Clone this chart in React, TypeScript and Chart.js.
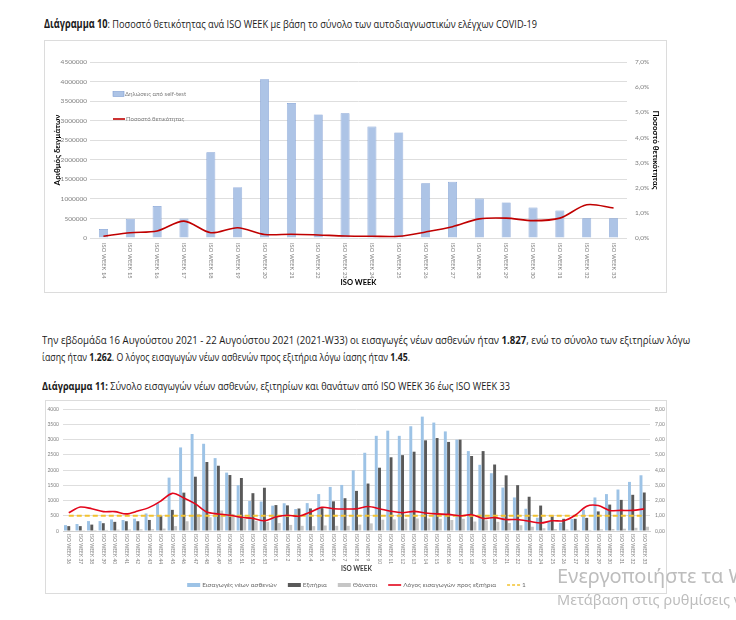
import React, { useEffect, useLayoutEffect, useRef } from "react";
import { Chart, registerables } from "chart.js";

Chart.register(...registerables);

const FONT = 'Lato, "Open Sans", sans-serif';
const PAGE_FONT = '"Open Sans", Lato, sans-serif';

// ---------- Διάγραμμα 10 ----------
const weeks10 = [
  "ISO WEEK 14", "ISO WEEK 15", "ISO WEEK 16", "ISO WEEK 17", "ISO WEEK 18",
  "ISO WEEK 19", "ISO WEEK 20", "ISO WEEK 21", "ISO WEEK 22", "ISO WEEK 23",
  "ISO WEEK 24", "ISO WEEK 25", "ISO WEEK 26", "ISO WEEK 27", "ISO WEEK 28",
  "ISO WEEK 29", "ISO WEEK 30", "ISO WEEK 31", "ISO WEEK 32", "ISO WEEK 33",
];
const selfTestCounts = [
  230000, 490000, 820000, 500000, 2190000, 1300000, 4060000, 3450000, 3160000, 3190000,
  2850000, 2700000, 1400000, 1440000, 1010000, 910000, 780000, 700000, 505000, 505000,
];
const positivityPct = [
  0.07, 0.21, 0.28, 0.67, 0.21, 0.41, 0.14, 0.15, 0.12, 0.08,
  0.07, 0.07, 0.24, 0.45, 0.76, 0.79, 0.69, 0.79, 1.32, 1.19,
];
const legend10 = ["Δηλώσεις από self-test", "Ποσοστό θετικότητας"];

// ---------- Διάγραμμα 11 ----------
const weeks11 = [
  "ISO WEEK 36", "ISO WEEK 37", "ISO WEEK 38", "ISO WEEK 39", "ISO WEEK 40", "ISO WEEK 41",
  "ISO WEEK 42", "ISO WEEK 43", "ISO WEEK 44", "ISO WEEK 45", "ISO WEEK 46", "ISO WEEK 47",
  "ISO WEEK 48", "ISO WEEK 49", "ISO WEEK 50", "ISO WEEK 51", "ISO WEEK 52", "ISO WEEK 53",
  "ISO WEEK 1", "ISO WEEK 2", "ISO WEEK 3", "ISO WEEK 4", "ISO WEEK 5", "ISO WEEK 6",
  "ISO WEEK 7", "ISO WEEK 8", "ISO WEEK 9", "ISO WEEK 10", "ISO WEEK 11", "ISO WEEK 12",
  "ISO WEEK 13", "ISO WEEK 14", "ISO WEEK 15", "ISO WEEK 16", "ISO WEEK 17", "ISO WEEK 18",
  "ISO WEEK 19", "ISO WEEK 20", "ISO WEEK 21", "ISO WEEK 22", "ISO WEEK 23", "ISO WEEK 24",
  "ISO WEEK 25", "ISO WEEK 26", "ISO WEEK 27", "ISO WEEK 28", "ISO WEEK 29", "ISO WEEK 30",
  "ISO WEEK 31", "ISO WEEK 32", "ISO WEEK 33",
];
const admissions = [
  193, 230, 325, 325, 380, 360, 405, 575, 917, 1750, 2740, 3180,
  2860, 2390, 1915, 1500, 985, 965, 830, 910, 720, 915, 1210, 1445,
  1510, 1990, 2565, 3120, 3290, 3120, 3435, 3750, 3555, 3265, 2995, 2620,
  2170, 1895, 1425, 1100, 730, 435, 300, 270, 395, 700, 1100, 1210,
  1360, 1610, 1827,
];
const discharges = [
  160, 160, 210, 256, 300, 320, 320, 362, 490, 693, 1258, 1780,
  2262, 2140, 1835, 1738, 1240, 1418, 850, 840, 738, 740, 750, 973,
  1075, 1315, 1556, 2075, 2417, 2487, 2600, 2973, 3048, 2920, 2995, 2460,
  2620, 2180, 1825, 1503, 1123, 834, 480, 400, 400, 430, 642, 866,
  1020, 1187, 1262,
];
const deaths = [
  20, 25, 30, 35, 45, 50, 55, 60, 80, 160, 320, 560,
  450, 670, 560, 400, 330, 300, 260, 200, 170, 160, 180, 170,
  170, 210, 250, 370, 380, 400, 410, 410, 400, 360, 400, 310,
  350, 300, 260, 190, 140, 90, 60, 50, 35, 35, 55, 65,
  75, 105, 140,
];
const ratio = [
  1.20, 1.57, 1.46, 1.27, 1.27, 1.12, 1.31, 1.55, 1.97, 2.47, 2.17, 1.78,
  1.24, 1.12, 1.03, 0.90, 0.82, 0.67, 0.92, 1.03, 0.97, 1.24, 1.55, 1.46,
  1.44, 1.46, 1.61, 1.46, 1.29, 1.20, 1.29, 1.18, 1.12, 1.09, 0.99, 1.07,
  0.82, 0.88, 0.75, 0.75, 0.64, 0.52, 0.67, 0.67, 1.03, 1.63, 1.67, 1.35,
  1.35, 1.35, 1.45,
];
const referenceLevel = 1;
const legend11 = [
  "Εισαγωγές νέων ασθενών",
  "Εξιτήρια",
  "Θάνατοι",
  "Λόγος εισαγωγών προς εξιτήρια",
  "1",
];

// colours
const C10_BAR = "#adc4e6";
const C10_BAR_BORDER = "#7f9ed3";
const C10_LINE = "#c00000";
const C11_ADM = "#9dc3e6";
const C11_DIS = "#595959";
const C11_DEA = "#c6c6c6";
const C11_RATIO = "#e3061b";
const C11_REF = "#f2c230";
const TICK_GRAY = "#7f7f7f";
const GRID = "#dedede";

function rotatedXLabels(offset: number, size: number) {
  return {
    id: "rotatedXLabels",
    afterDraw(chart: any) {
      const { ctx, chartArea } = chart;
      const xs = chart.scales.x;
      const labels = chart.data.labels as string[];
      ctx.save();
      ctx.font = `${size}px ${FONT}`;
      ctx.fillStyle = TICK_GRAY;
      ctx.textAlign = "left";
      ctx.textBaseline = "middle";
      labels.forEach((l, i) => {
        const x = xs.getPixelForValue(i);
        ctx.save();
        ctx.translate(x, chartArea.bottom + offset);
        ctx.rotate(Math.PI / 2);
        ctx.fillText(l, 0, 0);
        ctx.restore();
      });
      ctx.restore();
    },
  };
}

const legend10Plugin = {
  id: "legend10",
  afterDraw(chart: any) {
    const { ctx, chartArea } = chart;
    const x0 = chartArea.left + 23;
    ctx.save();
    ctx.font = `6px ${FONT}`;
    ctx.textBaseline = "middle";
    ctx.textAlign = "left";
    const y1 = chartArea.top + 32;
    ctx.fillStyle = C10_BAR;
    ctx.fillRect(x0, y1 - 2.5, 11, 5);
    ctx.strokeStyle = C10_BAR_BORDER;
    ctx.lineWidth = 0.6;
    ctx.strokeRect(x0, y1 - 2.5, 11, 5);
    ctx.fillStyle = TICK_GRAY;
    ctx.fillText(legend10[0], x0 + 12, y1);
    const y2 = chartArea.top + 57;
    ctx.strokeStyle = C10_LINE;
    ctx.lineWidth = 1.6;
    ctx.beginPath();
    ctx.moveTo(x0, y2);
    ctx.lineTo(x0 + 12, y2);
    ctx.stroke();
    ctx.fillStyle = TICK_GRAY;
    ctx.fillText(legend10[1], x0 + 13, y2);
    ctx.restore();
  },
};

const legend11Plugin = {
  id: "legend11",
  afterDraw(chart: any) {
    const { ctx, chartArea } = chart;
    const markers = [
      { kind: "box", color: C11_ADM },
      { kind: "box", color: C11_DIS },
      { kind: "box", color: C11_DEA },
      { kind: "line", color: C11_RATIO, dash: [] as number[] },
      { kind: "line", color: C11_REF, dash: [3, 2] },
    ];
    const mw = 13;
    const gapMarker = 2;
    const gapItem = 11;
    ctx.save();
    ctx.font = `6.5px ${FONT}`;
    const widths = legend11.map((t) => ctx.measureText(t).width);
    const total =
      widths.reduce((a, b) => a + b, 0) + legend11.length * (mw + gapMarker) + (legend11.length - 1) * gapItem;
    let x = (chartArea.left + chartArea.right) / 2 - total / 2;
    const y = chart.height - 8;
    ctx.textBaseline = "middle";
    ctx.textAlign = "left";
    legend11.forEach((t, i) => {
      const m = markers[i];
      if (m.kind === "box") {
        ctx.fillStyle = m.color;
        ctx.fillRect(x, y - 2, mw, 4);
      } else {
        ctx.strokeStyle = m.color;
        ctx.lineWidth = 1.6;
        ctx.setLineDash(m.dash || []);
        ctx.beginPath();
        ctx.moveTo(x, y);
        ctx.lineTo(x + mw, y);
        ctx.stroke();
        ctx.setLineDash([]);
      }
      x += mw + gapMarker;
      ctx.fillStyle = "#6b6b6b";
      ctx.fillText(t, x, y);
      x += widths[i] + gapItem;
    });
    ctx.restore();
  },
};

function Chart10() {
  const ref = useRef<HTMLCanvasElement>(null);
  useEffect(() => {
    if (!ref.current) return;
    const chart = new Chart(ref.current, {
      type: "bar",
      data: {
        labels: weeks10,
        datasets: [
          {
            type: "line",
            label: legend10[1],
            data: positivityPct,
            yAxisID: "y1",
            borderColor: C10_LINE,
            backgroundColor: C10_LINE,
            borderWidth: 1.6,
            pointRadius: 0,
            tension: 0.3,
            order: 0,
          } as any,
          {
            type: "bar",
            label: legend10[0],
            data: selfTestCounts,
            yAxisID: "y",
            backgroundColor: C10_BAR,
            borderColor: C10_BAR_BORDER,
            borderWidth: 0.7,
            barPercentage: 0.335,
            categoryPercentage: 1,
            order: 1,
          } as any,
        ],
      },
      options: {
        animation: false,
        responsive: false,
        maintainAspectRatio: false,
        layout: { padding: { left: 4, right: 2, top: 21, bottom: 1 } },
        plugins: { legend: { display: false }, tooltip: { enabled: false } },
        scales: {
          x: {
            grid: { display: false },
            border: { display: false },
            ticks: { display: false },
            title: {
              display: true,
              text: "ISO WEEK",
              color: "#000",
              font: { family: FONT, size: 7.5, weight: "bold" },
              padding: { top: 4, bottom: 4 },
            },
            afterFit: (s: any) => {
              s.height = 53;
            },
          },
          y: {
            position: "left",
            min: 0,
            max: 4500000,
            ticks: {
              stepSize: 500000,
              color: TICK_GRAY,
              font: { family: FONT, size: 6.5 },
              padding: 3,
              callback: (v: any) => String(v),
            },
            grid: { color: GRID, drawTicks: false },
            border: { display: false },
            title: {
              display: true,
              text: "Αριθμός δειγμάτων",
              color: "#000",
              font: { family: FONT, size: 8, weight: "bold" },
            },
            afterFit: (s: any) => {
              s.width = 41;
            },
          },
          y1: {
            position: "right",
            min: 0,
            max: 7,
            ticks: {
              stepSize: 1,
              color: TICK_GRAY,
              font: { family: FONT, size: 6.5 },
              padding: 8,
              callback: (v: any) => Number(v).toFixed(1).replace(".", ",") + "%",
            },
            grid: { display: false, drawTicks: false },
            border: { display: false },
            title: {
              display: true,
              text: "Ποσοστό θετικότητας",
              color: "#000",
              font: { family: FONT, size: 8, weight: "bold" },
            },
            afterFit: (s: any) => {
              s.width = 37;
            },
          },
        },
      } as any,
      plugins: [rotatedXLabels(5, 5.8), legend10Plugin],
    });
    return () => chart.destroy();
  }, []);
  return <canvas ref={ref} width={621} height={251} style={{ display: "block" }} />;
}

function Chart11() {
  const ref = useRef<HTMLCanvasElement>(null);
  useEffect(() => {
    if (!ref.current) return;
    const chart = new Chart(ref.current, {
      type: "bar",
      data: {
        labels: weeks11,
        datasets: [
          {
            type: "line",
            label: legend11[3],
            data: ratio,
            yAxisID: "y1",
            borderColor: C11_RATIO,
            backgroundColor: C11_RATIO,
            borderWidth: 1.6,
            pointRadius: 0,
            tension: 0.3,
            order: 0,
          } as any,
          {
            type: "line",
            label: legend11[4],
            data: weeks11.map(() => referenceLevel),
            yAxisID: "y1",
            borderColor: C11_REF,
            backgroundColor: C11_REF,
            borderWidth: 2.2,
            borderDash: [5, 3],
            pointRadius: 0,
            order: 1,
          } as any,
          {
            type: "bar",
            label: legend11[0],
            data: admissions,
            yAxisID: "y",
            backgroundColor: C11_ADM,
            barPercentage: 0.9,
            categoryPercentage: 0.85,
            order: 2,
          } as any,
          {
            type: "bar",
            label: legend11[1],
            data: discharges,
            yAxisID: "y",
            backgroundColor: C11_DIS,
            barPercentage: 0.9,
            categoryPercentage: 0.85,
            order: 3,
          } as any,
          {
            type: "bar",
            label: legend11[2],
            data: deaths,
            yAxisID: "y",
            backgroundColor: C11_DEA,
            barPercentage: 0.9,
            categoryPercentage: 0.85,
            order: 4,
          } as any,
        ],
      },
      options: {
        animation: false,
        responsive: false,
        maintainAspectRatio: false,
        layout: { padding: { left: 0, right: 0, top: 6, bottom: 16 } },
        plugins: { legend: { display: false }, tooltip: { enabled: false } },
        scales: {
          x: {
            grid: { display: false },
            border: { display: true, color: "#d0d0d0" },
            ticks: { display: false },
            title: {
              display: true,
              text: "ISO WEEK",
              color: "#404040",
              font: { family: FONT, size: 6.5, weight: "bold" },
              padding: { top: 4, bottom: 4 },
            },
            afterFit: (s: any) => {
              s.height = 46;
            },
          },
          y: {
            position: "left",
            min: 0,
            max: 4000,
            ticks: {
              stepSize: 500,
              color: TICK_GRAY,
              font: { family: FONT, size: 5 },
              padding: 4,
              callback: (v: any) => String(v),
            },
            grid: { color: GRID, drawTicks: false },
            border: { display: false },
            afterFit: (s: any) => {
              s.width = 17;
            },
          },
          y1: {
            position: "right",
            min: 0,
            max: 8,
            ticks: {
              stepSize: 1,
              color: TICK_GRAY,
              font: { family: FONT, size: 5 },
              padding: 5,
              callback: (v: any) => Number(v).toFixed(2).replace(".", ","),
            },
            grid: { display: false, drawTicks: false },
            border: { display: false },
            afterFit: (s: any) => {
              s.width = 16;
            },
          },
        },
      } as any,
      plugins: [rotatedXLabels(3, 4.9), legend11Plugin],
    });
    return () => chart.destroy();
  }, []);
  return <canvas ref={ref} width={620} height={192} style={{ display: "block" }} />;
}

function FitLine({
  left,
  centerY,
  width,
  size,
  children,
}: {
  left: number;
  centerY: number;
  width: number;
  size: number;
  children: any;
}) {
  const ref = useRef<HTMLDivElement>(null);
  useLayoutEffect(() => {
    const el = ref.current;
    if (!el) return;
    el.style.transform = "none";
    const w = el.offsetWidth;
    if (w > 0) el.style.transform = `scaleX(${width / w})`;
  }, [width]);
  return (
    <div
      ref={ref}
      style={{
        position: "absolute",
        left,
        top: centerY - 8,
        height: 16,
        lineHeight: "16px",
        fontSize: size,
        fontFamily: PAGE_FONT,
        color: "#1a1a1a",
        whiteSpace: "nowrap",
        transformOrigin: "0 50%",
      }}
    >
      {children}
    </div>
  );
}

export default function App() {
  return (
    <div
      style={{
        position: "absolute",
        left: 0,
        top: 0,
        width: 736,
        height: 620,
        overflow: "hidden",
        background: "#fff",
      }}
    >
      <FitLine left={44} centerY={24} width={493} size={11.5}>
        <b>Διάγραμμα 10</b>: Ποσοστό θετικότητας ανά ISO WEEK με βάση το σύνολο των αυτοδιαγνωστικών ελέγχων COVID-19
      </FitLine>

      <div
        style={{
          position: "absolute",
          left: 44,
          top: 40,
          width: 621,
          height: 251,
          border: "1px solid #dcdcdc",
        }}
      >
        <Chart10 />
      </div>

      <FitLine left={42} centerY={340} width={648} size={11}>
        Την εβδομάδα 16 Αυγούστου 2021 - 22 Αυγούστου 2021 (2021-W33) οι εισαγωγές νέων ασθενών ήταν <b>1.827</b>, ενώ
        το σύνολο των εξιτηρίων λόγω
      </FitLine>
      <FitLine left={42} centerY={357} width={368} size={11}>
        ίασης ήταν <b>1.262</b>. Ο λόγος εισαγωγών νέων ασθενών προς εξιτήρια λόγω ίασης ήταν <b>1.45</b>.
      </FitLine>

      <FitLine left={42} centerY={386} width={468} size={11}>
        <b>Διάγραμμα 11:</b> Σύνολο εισαγωγών νέων ασθενών, εξιτηρίων και θανάτων από ISO WEEK 36 έως ISO WEEK 33
      </FitLine>

      <div
        style={{
          position: "absolute",
          left: 45,
          top: 400,
          width: 620,
          height: 192,
          border: "1px solid #dcdcdc",
        }}
      >
        <Chart11 />
      </div>

      <div
        style={{
          position: "absolute",
          left: 557,
          top: 563,
          fontFamily: '"Noto Sans", "Open Sans", sans-serif',
          fontSize: 20,
          lineHeight: "26px",
          color: "#bdbdbd",
          whiteSpace: "nowrap",
        }}
      >
        Ενεργοποιήστε τα Windows
      </div>
      <div
        style={{
          position: "absolute",
          left: 557,
          top: 589,
          fontFamily: '"Noto Sans", "Open Sans", sans-serif',
          fontSize: 14.5,
          lineHeight: "20px",
          color: "#bdbdbd",
          whiteSpace: "nowrap",
        }}
      >
        Μετάβαση στις ρυθμίσεις για να ενεργοποιήσετε τα Windows.
      </div>
    </div>
  );
}
